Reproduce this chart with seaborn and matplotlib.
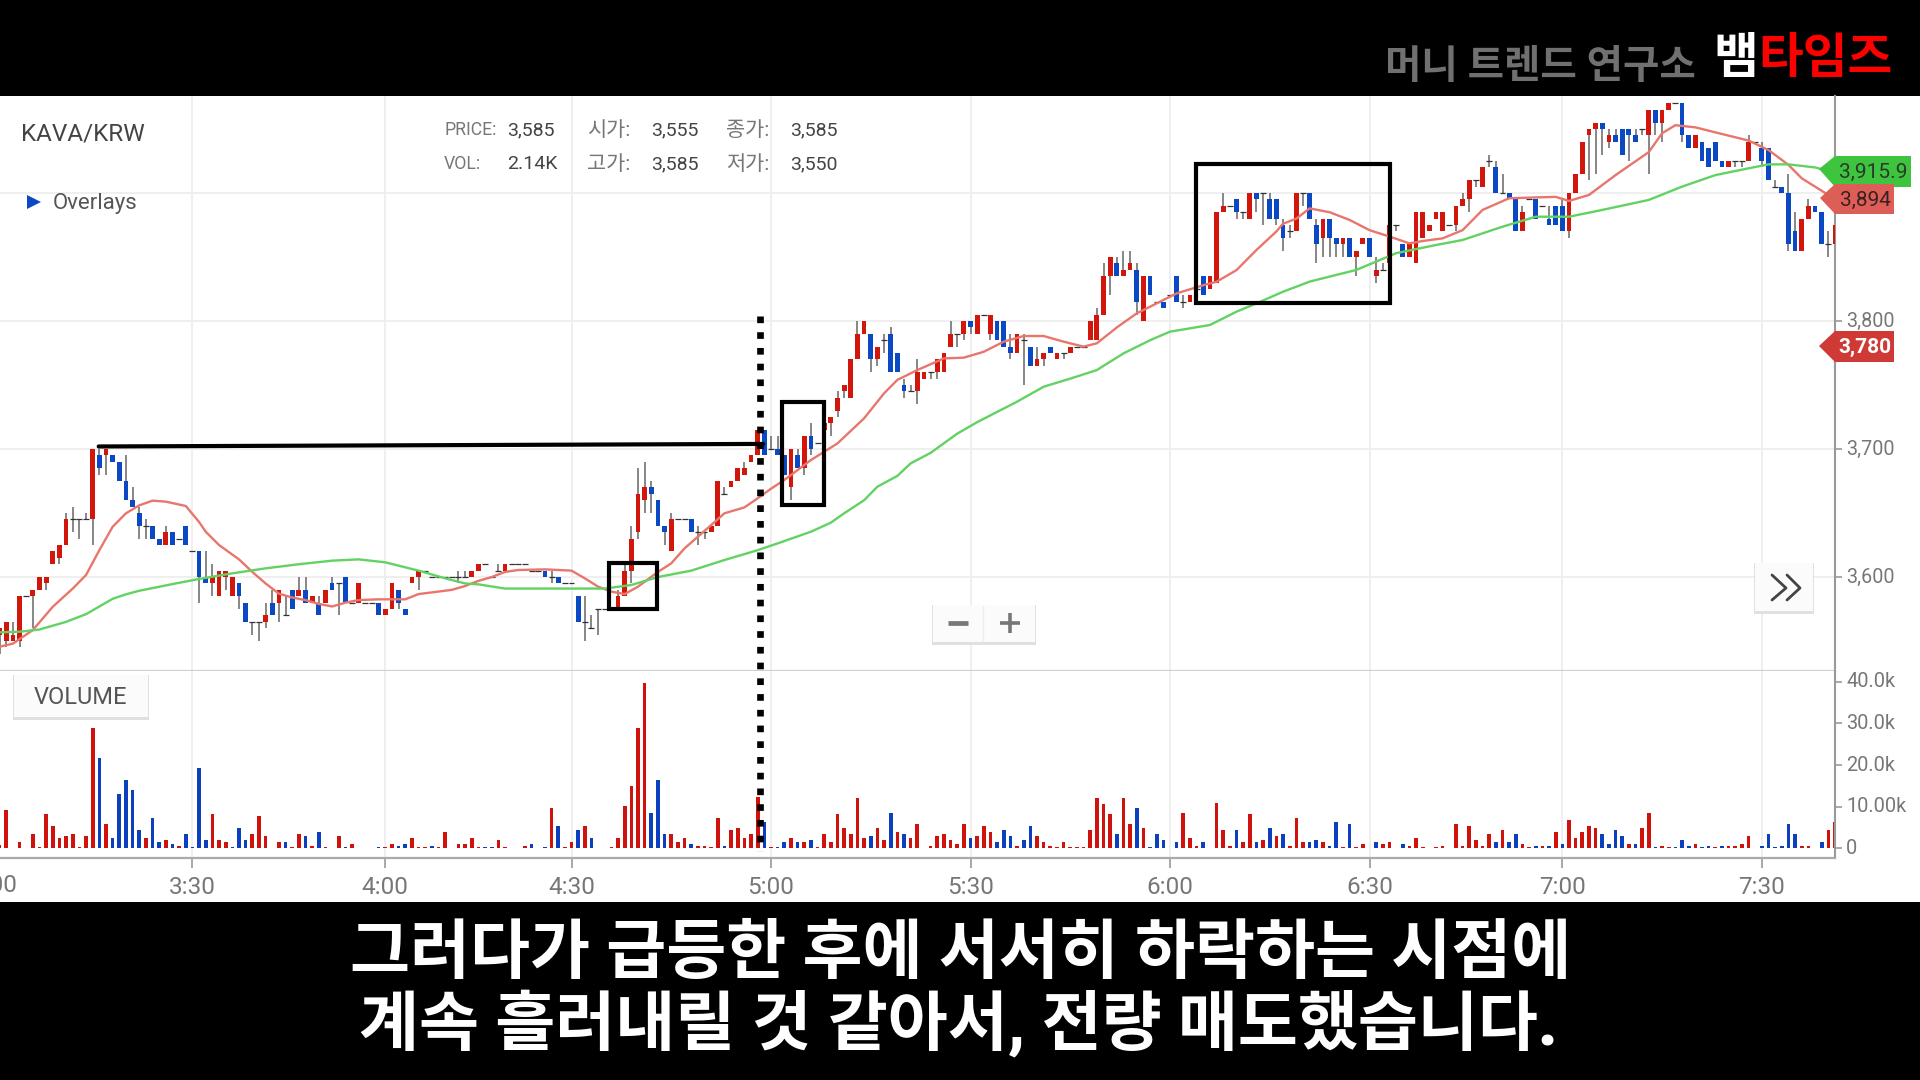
"""
KAVA/KRW candle chart with volume pane, from a video frame with caption bars.
"""

import matplotlib
matplotlib.use("Agg")
import matplotlib.pyplot as plt
import numpy as np
import pandas as pd
import seaborn as sns
from matplotlib.patches import Polygon, Rectangle
from matplotlib.transforms import ScaledTranslation

# ============================================
# Data (one entry per bar)
# ============================================
open_prices = [
    3555, 3550, 3550, 3550, 3585, 3585, 3590, 3595, 3610, 3615,
    3625, 3645, 3645, 3645, 3645, 3695, 3695, 3695, 3690, 3675,
    3660, 3650, 3640, 3640, 3630, 3625, 3635, 3630, 3640, 3620,
    3620, 3600, 3595, 3585, 3600, 3585, 3595, 3580, 3565, 3565,
    3565, 3580, 3580, 3570, 3590, 3585, 3590, 3580, 3580, 3580,
    3595, 3595, 3600, 3580, 3580, 3580, 3580, 3580, 3570, 3575,
    3590, 3575, 3595, 3600, 3605, 3600, 3600, 3600, 3600, 3600,
    3600, 3600, 3605, 3610, 3600, 3605, 3605, 3610, 3610, 3610,
    3605, 3605, 3605, 3600, 3600, 3595, 3595, 3585, 3565, 3560,
    3575, 3575, 3575, 3575, 3585, 3605, 3635, 3660, 3670, 3660,
    3640, 3620, 3645, 3645, 3645, 3635, 3635, 3635, 3640, 3665,
    3670, 3675, 3680, 3690, 3695, 3715, 3700, 3700, 3695, 3670,
    3695, 3685, 3710, 3705, 3715, 3720, 3730, 3745, 3740, 3770,
    3790, 3790, 3770, 3785, 3790, 3775, 3750, 3745, 3745, 3755,
    3760, 3760, 3760, 3780, 3790, 3790, 3800, 3790, 3805, 3790,
    3800, 3800, 3780, 3775, 3785, 3780, 3765, 3770, 3780, 3770,
    3775, 3775, 3780, 3780, 3785, 3785, 3805, 3835, 3845, 3835,
    3840, 3840, 3800, 3835, 3815, 3815, 3820, 3835, 3815, 3815,
    3825, 3835, 3825, 3830, 3885, 3890, 3895, 3885, 3880, 3900,
    3900, 3895, 3895, 3875, 3870, 3870, 3900, 3900, 3875, 3865,
    3880, 3865, 3860, 3865, 3850, 3860, 3865, 3835, 3840, 3845,
    3875, 3860, 3850, 3845, 3865, 3870, 3880, 3870, 3875, 3875,
    3890, 3895, 3910, 3905, 3925, 3920, 3900, 3900, 3895, 3870,
    3895, 3895, 3890, 3880, 3890, 3890, 3870, 3900, 3915, 3945,
    3950, 3955, 3940, 3945, 3950, 3950, 3945, 3950, 3945, 3965,
    3955, 3965, 3970, 3970, 3945, 3935, 3940, 3935, 3940, 3925,
    3920, 3925, 3925, 3925, 3940, 3935, 3935, 3905, 3905, 3900,
    3870, 3855, 3880, 3890, 3885, 3860, 3860,
]
close_prices = [
    3560, 3565, 3555, 3585, 3585, 3590, 3600, 3600, 3620, 3625,
    3645, 3645, 3645, 3645, 3700, 3685, 3700, 3690, 3675, 3660,
    3655, 3640, 3640, 3630, 3625, 3635, 3625, 3630, 3625, 3620,
    3600, 3595, 3600, 3605, 3605, 3600, 3585, 3565, 3565, 3565,
    3570, 3570, 3590, 3570, 3575, 3590, 3580, 3585, 3570, 3590,
    3590, 3595, 3580, 3580, 3595, 3580, 3580, 3570, 3575, 3595,
    3580, 3570, 3600, 3605, 3605, 3600, 3600, 3600, 3600, 3600,
    3600, 3605, 3610, 3610, 3600, 3605, 3610, 3610, 3610, 3610,
    3605, 3605, 3600, 3600, 3595, 3595, 3595, 3565, 3565, 3560,
    3575, 3575, 3575, 3585, 3605, 3630, 3665, 3670, 3665, 3640,
    3635, 3645, 3645, 3645, 3635, 3635, 3635, 3640, 3675, 3665,
    3675, 3685, 3685, 3695, 3715, 3695, 3700, 3695, 3680, 3700,
    3685, 3710, 3700, 3705, 3720, 3725, 3740, 3750, 3770, 3790,
    3800, 3770, 3780, 3785, 3760, 3760, 3745, 3745, 3760, 3760,
    3760, 3770, 3775, 3790, 3790, 3800, 3795, 3805, 3805, 3805,
    3785, 3780, 3775, 3790, 3785, 3765, 3770, 3775, 3775, 3775,
    3775, 3780, 3780, 3780, 3800, 3805, 3835, 3850, 3835, 3840,
    3845, 3815, 3835, 3820, 3815, 3810, 3820, 3815, 3815, 3820,
    3825, 3820, 3835, 3885, 3890, 3890, 3885, 3885, 3900, 3895,
    3900, 3880, 3880, 3865, 3870, 3900, 3900, 3880, 3860, 3880,
    3865, 3860, 3865, 3850, 3855, 3865, 3850, 3840, 3840, 3875,
    3875, 3850, 3860, 3885, 3885, 3875, 3885, 3885, 3875, 3890,
    3895, 3910, 3910, 3920, 3925, 3900, 3900, 3895, 3870, 3885,
    3895, 3880, 3890, 3875, 3875, 3870, 3900, 3915, 3940, 3950,
    3955, 3950, 3945, 3940, 3930, 3945, 3940, 3950, 3965, 3955,
    3965, 3970, 3970, 3945, 3935, 3945, 3925, 3920, 3925, 3920,
    3925, 3925, 3925, 3940, 3940, 3925, 3910, 3905, 3900, 3860,
    3855, 3880, 3890, 3885, 3860, 3860, 3875,
]
high_prices = [
    3560, 3565, 3565, 3585, 3585, 3590, 3600, 3600, 3620, 3625,
    3650, 3655, 3645, 3650, 3700, 3700, 3700, 3695, 3690, 3695,
    3670, 3655, 3645, 3640, 3630, 3640, 3635, 3630, 3640, 3620,
    3620, 3620, 3610, 3605, 3605, 3600, 3595, 3580, 3565, 3565,
    3580, 3590, 3590, 3585, 3590, 3600, 3600, 3585, 3585, 3590,
    3600, 3595, 3600, 3580, 3595, 3580, 3580, 3580, 3575, 3595,
    3590, 3575, 3600, 3605, 3605, 3600, 3600, 3600, 3600, 3605,
    3605, 3605, 3610, 3610, 3600, 3610, 3610, 3610, 3610, 3610,
    3605, 3605, 3605, 3605, 3600, 3595, 3595, 3585, 3585, 3570,
    3575, 3575, 3575, 3590, 3610, 3640, 3685, 3690, 3675, 3660,
    3640, 3650, 3645, 3645, 3645, 3640, 3635, 3640, 3675, 3670,
    3675, 3685, 3690, 3695, 3715, 3715, 3710, 3710, 3695, 3700,
    3700, 3710, 3720, 3705, 3720, 3725, 3745, 3750, 3770, 3800,
    3800, 3790, 3780, 3790, 3795, 3775, 3755, 3750, 3770, 3760,
    3760, 3770, 3775, 3800, 3790, 3800, 3800, 3805, 3805, 3805,
    3800, 3800, 3790, 3790, 3790, 3780, 3780, 3775, 3780, 3775,
    3775, 3780, 3780, 3780, 3800, 3810, 3845, 3850, 3850, 3855,
    3855, 3845, 3835, 3835, 3815, 3815, 3820, 3835, 3820, 3820,
    3825, 3835, 3835, 3885, 3900, 3890, 3895, 3885, 3900, 3900,
    3900, 3900, 3895, 3880, 3875, 3900, 3900, 3900, 3880, 3880,
    3880, 3865, 3865, 3865, 3855, 3865, 3865, 3850, 3845, 3875,
    3875, 3860, 3860, 3885, 3885, 3875, 3885, 3885, 3875, 3890,
    3900, 3910, 3910, 3920, 3930, 3925, 3915, 3900, 3895, 3890,
    3895, 3895, 3890, 3890, 3890, 3895, 3900, 3915, 3940, 3950,
    3955, 3955, 3950, 3950, 3950, 3950, 3950, 3950, 3965, 3965,
    3965, 3970, 3970, 3970, 3945, 3945, 3940, 3935, 3940, 3925,
    3925, 3925, 3925, 3945, 3940, 3940, 3935, 3910, 3905, 3915,
    3885, 3880, 3895, 3890, 3885, 3870, 3875,
]
low_prices = [
    3540, 3545, 3550, 3545, 3585, 3560, 3590, 3590, 3610, 3610,
    3625, 3635, 3630, 3645, 3625, 3680, 3680, 3690, 3675, 3660,
    3655, 3630, 3630, 3630, 3625, 3625, 3625, 3630, 3625, 3620,
    3580, 3595, 3585, 3585, 3590, 3585, 3575, 3565, 3555, 3550,
    3560, 3570, 3565, 3570, 3575, 3585, 3580, 3580, 3570, 3580,
    3590, 3570, 3580, 3580, 3580, 3580, 3580, 3570, 3570, 3575,
    3575, 3570, 3595, 3590, 3605, 3600, 3600, 3600, 3600, 3595,
    3600, 3600, 3605, 3610, 3600, 3605, 3605, 3610, 3610, 3610,
    3605, 3605, 3600, 3595, 3595, 3595, 3595, 3565, 3550, 3560,
    3555, 3575, 3575, 3575, 3585, 3595, 3630, 3650, 3650, 3640,
    3625, 3620, 3645, 3645, 3635, 3625, 3630, 3635, 3640, 3665,
    3670, 3675, 3680, 3690, 3695, 3695, 3700, 3695, 3680, 3660,
    3685, 3680, 3695, 3705, 3710, 3710, 3725, 3740, 3740, 3770,
    3790, 3760, 3765, 3775, 3760, 3760, 3740, 3745, 3735, 3755,
    3755, 3755, 3760, 3780, 3780, 3785, 3790, 3790, 3805, 3785,
    3785, 3780, 3770, 3775, 3750, 3765, 3765, 3765, 3775, 3770,
    3770, 3775, 3780, 3780, 3785, 3785, 3805, 3820, 3835, 3835,
    3840, 3805, 3800, 3820, 3815, 3810, 3820, 3815, 3810, 3815,
    3825, 3820, 3825, 3830, 3885, 3890, 3880, 3880, 3880, 3885,
    3875, 3880, 3875, 3855, 3865, 3870, 3890, 3880, 3845, 3850,
    3850, 3850, 3850, 3850, 3835, 3860, 3850, 3830, 3840, 3845,
    3870, 3850, 3850, 3845, 3865, 3870, 3880, 3870, 3875, 3870,
    3890, 3885, 3905, 3905, 3920, 3900, 3900, 3895, 3870, 3870,
    3895, 3880, 3890, 3875, 3875, 3870, 3865, 3900, 3915, 3910,
    3915, 3930, 3935, 3940, 3930, 3925, 3940, 3945, 3915, 3945,
    3940, 3965, 3970, 3940, 3935, 3935, 3925, 3920, 3925, 3920,
    3920, 3920, 3920, 3925, 3940, 3920, 3910, 3905, 3900, 3855,
    3855, 3855, 3880, 3885, 3860, 3850, 3860,
]

# volume in thousands, 0 where the bar is absent
volume_k = [
    0.8, 9.2, 0, 1.5, 0, 3.4, 0.4, 8.2, 5.4, 2.4,
    3, 3.4, 0.4, 3, 28.8, 21.6, 5.8, 2.4, 13, 16.4,
    14, 4.4, 2.4, 7.2, 1.4, 2, 1, 0.6, 3.4, 0.3,
    19.2, 2, 8.2, 2, 1.4, 0.3, 4.8, 2, 3.4, 7.8,
    3, 0, 1.4, 1.4, 0.3, 3.4, 3, 0.6, 3.8, 0.3,
    0, 3, 0.3, 1, 0, 0, 0, 0.3, 0.3, 1,
    0.6, 1, 2.4, 0.4, 0.3, 0.6, 0.3, 3.8, 0, 1,
    1, 2.4, 0.3, 0.3, 0.3, 2, 0.3, 0, 0, 0.6,
    1, 0, 0.3, 9.6, 5.4, 0.3, 1.4, 4.3, 5.4, 2.4,
    0, 0, 0.3, 2.4, 10.2, 15, 28.8, 39.8, 8.6, 16.4,
    3.4, 3.4, 1.4, 2.4, 1, 0.6, 0.5, 0.3, 7.2, 0.6,
    4.3, 4.8, 2.4, 3.4, 12.4, 6.2, 0.3, 0.3, 1.4, 2.4,
    1.4, 1.4, 1.9, 0.3, 3.4, 1.4, 8.2, 4.8, 3.4, 12,
    2.4, 2.9, 4.8, 1.9, 8.6, 3.8, 3.4, 2.4, 5.8, 0,
    0.6, 3, 3.4, 1.9, 1, 5.8, 2.4, 2.9, 5.3, 3.8,
    1.4, 4.3, 2.9, 0.6, 1.9, 5.3, 2.9, 1.4, 0.6, 0.3,
    1.4, 0.3, 0.3, 0.3, 4.3, 12, 10.6, 8.2, 3.4, 12,
    5.8, 9.6, 4.8, 0.4, 3.4, 1.9, 0, 1.4, 8.6, 2.4,
    0.6, 1.4, 0, 11, 4.3, 0.6, 4.3, 1.4, 8.2, 1.4,
    1.9, 4.8, 2.9, 3.4, 0.6, 7.2, 1.4, 1.4, 1.9, 1.4,
    0.6, 6.2, 0.3, 5.8, 0.4, 1, 0, 1.4, 1, 1.4,
    0, 1, 0.6, 2.4, 0.3, 0, 0.3, 0.6, 0, 5.8,
    0.6, 5.3, 1.9, 0.6, 3.4, 1.4, 4.3, 1.4, 3.4, 1,
    0.3, 0.6, 0.5, 0.6, 3.8, 1, 6.7, 2.4, 3.8, 5.3,
    4.8, 3.4, 1, 4.3, 2.9, 1, 1, 4.8, 8.6, 0.3,
    0.5, 0.3, 0.3, 1.9, 0.6, 1, 0.3, 0.6, 0.3, 0.6,
    0.5, 0.5, 1, 2.9, 0, 0.6, 3.4, 0.3, 0.5, 5.8,
    3.4, 0.6, 0.5, 0, 1.4, 4.3, 6.2,
]
# bars whose volume is drawn blue
volume_down_bars = [
    15, 17, 18, 19, 20, 21, 23, 24, 26, 28, 29, 30, 31, 35, 36, 37, 43, 46, 48,
    52, 57, 60, 61, 65, 73, 74, 80, 82, 84, 87, 89, 98, 99, 100, 104, 109, 115,
    117, 118, 120, 122, 131, 134, 136, 146, 150, 151, 152, 154, 155, 168, 171,
    173, 174, 175, 177, 181, 186, 189, 191, 193, 197, 198, 200, 201, 203, 207,
    211, 225, 227, 228, 231, 233, 235, 241, 242, 243, 244, 246, 249, 252, 253,
    254, 256, 257, 259, 265, 266, 267, 268, 269, 270, 274,
]

# moving averages, read at these bars
fast_ma_bars = [
    0, 2, 5, 8, 11, 13, 15, 17, 19, 21, 23, 25, 28, 30, 31, 33, 36, 38, 40, 42,
    44, 46, 48, 50, 52, 54, 57, 59, 61, 63, 65, 68, 70, 72, 74, 76, 78, 82, 86,
    88, 90, 92, 94, 96, 99, 101, 103, 105, 107, 109, 112, 114, 116, 118, 122,
    126, 130, 132, 133, 135, 138, 142, 145, 148, 151, 154, 157, 160, 163, 165,
    168, 171, 174, 177, 181, 183, 186, 189, 192, 193, 195, 197, 200, 203, 206,
    209, 212, 214, 217, 220, 223, 227, 230, 234, 236, 239, 243, 248, 250, 252,
    255, 258, 263, 266, 269, 271, 273, 275, 276,
]
fast_ma = [
    3545.6, 3548, 3558.6, 3576.8, 3591, 3601.6, 3621, 3639.3, 3649.8, 3656,
    3659.7, 3658.9, 3655.5, 3643, 3635.4, 3625, 3613.8, 3604, 3595, 3587,
    3584, 3582, 3579, 3577, 3580, 3582, 3582.6, 3582.6, 3582.6, 3586.7,
    3588, 3590, 3593, 3597, 3600, 3604, 3605.5, 3606, 3605, 3599,
    3592.5, 3588.6, 3586.7, 3592.5, 3604, 3610.7, 3622.4, 3631.5, 3640.6, 3649.8,
    3654.4, 3661.5, 3669, 3675.8, 3691.4, 3704.4, 3724, 3737, 3743.5, 3754,
    3761.7, 3770.8, 3771.4, 3776, 3783.9, 3788.3, 3788.3, 3783.9, 3780, 3782.6,
    3795, 3806, 3813.8, 3821.6, 3828, 3830.7, 3839.8, 3855.5, 3870, 3876,
    3880, 3888, 3885, 3879, 3871, 3866, 3860.7, 3862.5, 3864.6, 3871,
    3886.8, 3895.9, 3896.4, 3897, 3893.8, 3898.5, 3914, 3932, 3946.7, 3953,
    3951.3, 3947.4, 3941, 3933.6, 3922, 3911.5, 3905, 3898.5, 3894,
]
slow_ma_bars = [
    0, 3, 6, 8, 10, 13, 15, 17, 19, 21, 26, 30, 35, 40, 45, 50, 54, 58, 63, 67, 70, 72, 76,
    82, 91, 95, 99, 104, 109, 114, 117, 122, 125, 127, 130, 132, 135, 137, 140, 144,
    147, 150, 153, 157, 161, 165,
    169, 173, 176, 182, 186, 189, 193, 197, 204, 210, 216, 220, 226, 231, 236,
    241, 248, 253, 258, 263, 266, 269, 273, 276,
]
slow_ma = [
    3556.8, 3557.3, 3559, 3562, 3565, 3571, 3577, 3583, 3586.5, 3589.3, 3594.5, 3598.5, 3602.9,
    3606.8, 3610, 3612.8, 3613.8, 3611.5, 3605, 3599, 3595, 3594.3, 3591,
    3591, 3591, 3593.8, 3600, 3605, 3613.3, 3621, 3626.3, 3635.4, 3642.5, 3649.8, 3660,
    3670.6, 3679, 3688.8, 3697, 3712,
    3721, 3729, 3737, 3748.7, 3755, 3761.7, 3774.7, 3785, 3791.7, 3796.9,
    3807.3, 3813.8, 3822.9, 3830.8, 3839.9, 3853, 3859.4, 3863.3, 3873.7, 3881.5,
    3881.5, 3886.8, 3894.6, 3905, 3914, 3919.3, 3922.4, 3922.4, 3920, 3915.9,
]

time_ticks = [29, 58, 86, 116, 146, 176, 206, 235, 265]
time_labels = ["3:30", "4:00", "4:30", "5:00", "5:30", "6:00", "6:30", "7:00", "7:30"]
price_ticks = [3600, 3700, 3800, 3900]
price_labels = ["3,600", "3,700", "3,800", ""]
volume_ticks = [0, 10, 20, 30, 40]
volume_labels = ["0", "10.00k", "20.0k", "30.0k", "40.0k"]

# hand-drawn boxes on the chart: first bar, last bar, low price, high price
marked_boxes = [
    (91.7, 98.9, 3575, 3611),
    (117.7, 123.9, 3656, 3737),
    (179.9, 209.1, 3814, 3923),
]

header_labels = ["PRICE:", "VOL:", "시가:", "고가:", "종가:", "저가:"]
header_values = ["3,585", "2.14K", "3,555", "3,585", "3,585", "3,550"]
caption_lines = [
    "그러다가 급등한 후에 서서히 하락하는 시점에",
    "계속 흘러내릴 것 같아서, 전량 매도했습니다.",
]

RED = "#d2160c"
BLUE = "#0b48c4"
WIDTH, HEIGHT = 1920, 1080
PANE_RIGHT, PANE_TOP, PANE_SPLIT, PANE_BOTTOM = 1835, 96, 671, 858

sns.set_theme(style="white")
plt.rcParams["font.family"] = ["Roboto", "Noto Sans CJK KR", "DejaVu Sans"]

fig = plt.figure(figsize=(19.2, 10.8), dpi=100, facecolor="black")

# ============================================
# Panes
# ============================================
ax_bg = fig.add_axes([0, 0, 1, 1], zorder=0)
ax_bg.set_xlim(0, WIDTH)
ax_bg.set_ylim(HEIGHT, 0)
ax_bg.axis("off")
ax_bg.add_patch(Rectangle((0, PANE_TOP), WIDTH, 902 - PANE_TOP, color="white", lw=0))

ax_price = fig.add_axes([
    0, 1 - PANE_SPLIT / HEIGHT, PANE_RIGHT / WIDTH, (PANE_SPLIT - PANE_TOP) / HEIGHT
], zorder=1)
ax_vol = fig.add_axes([
    0, 1 - PANE_BOTTOM / HEIGHT, PANE_RIGHT / WIDTH, (PANE_BOTTOM - PANE_SPLIT) / HEIGHT
], zorder=1)

bars = np.arange(len(open_prices))
opens = np.array(open_prices)
closes = np.array(close_prices)
highs = np.array(high_prices)
lows = np.array(low_prices)

# ============================================
# Price pane
# ============================================
flat = opens == closes
up = closes > opens
down = closes < opens

ax_price.vlines(bars, lows, highs, color="#666666", lw=1.1, zorder=2)
ax_price.bar(bars[up], (closes - opens)[up], bottom=opens[up], width=0.72, color=RED, lw=0, zorder=3)
ax_price.bar(bars[down], (opens - closes)[down], bottom=closes[down], width=0.72, color=BLUE, lw=0, zorder=3)
ax_price.hlines(opens[flat], bars[flat] - 0.45, bars[flat] + 0.45, color="#333333", lw=0.9, zorder=3)

sns.lineplot(x=fast_ma_bars, y=fast_ma, ax=ax_price, color="#e8766d", lw=1.7,
             estimator=None, errorbar=None, zorder=4)
sns.lineplot(x=slow_ma_bars, y=slow_ma, ax=ax_price, color="#62d262", lw=1.7,
             estimator=None, errorbar=None, zorder=4)

ax_price.set_xlim(0.06, 276)
ax_price.set_ylim(3526.6, 3975.8)
ax_price.set_xticks(time_ticks)
ax_price.set_xticklabels([])
ax_price.tick_params(axis="x", length=0)
ax_price.yaxis.tick_right()
ax_price.set_yticks(price_ticks)
ax_price.set_yticklabels(price_labels, fontsize=14.2, color="#777777")
ax_price.tick_params(axis="y", length=5, width=1.2, color="#999999", pad=3, direction="out", right=True)
ax_price.grid(True, color="#eeeeee", lw=1.3)
ax_price.set_axisbelow(True)
ax_price.set_xlabel("")
ax_price.set_ylabel("")

# boxes and the resistance line marked by hand on the chart
for first, last, bottom, top in marked_boxes:
    ax_price.add_patch(Rectangle((first, bottom), last - first, top - bottom, fill=False,
                                 edgecolor="black", lw=3, zorder=6))
sns.lineplot(x=[14.9, 114.8], y=[3702, 3704], ax=ax_price, color="black", lw=3,
             estimator=None, errorbar=None, zorder=6)

# ============================================
# Volume pane
# ============================================
volume_df = pd.DataFrame({"bar": bars, "volume": volume_k})
volume_df["side"] = np.where(volume_df["bar"].isin(volume_down_bars), "down", "up")
sns.barplot(data=volume_df, x="bar", y="volume", hue="side",
            palette={"up": "#cf120c", "down": "#0b3fc0"}, native_scale=True, dodge=False,
            width=0.55, saturation=1, errorbar=None, legend=False, ax=ax_vol, lw=0)

ax_vol.set_xlim(0.06, 276)
ax_vol.set_ylim(-2.33, 42.6)
ax_vol.set_xticks(time_ticks)
ax_vol.set_xticklabels(time_labels, fontsize=17.5, color="#777777")
ax_vol.tick_params(axis="x", length=7, width=1.2, color="#999999", pad=6, bottom=True)
ax_vol.yaxis.tick_right()
ax_vol.set_yticks(volume_ticks)
ax_vol.set_yticklabels(volume_labels, fontsize=14.4, color="#777777")
ax_vol.tick_params(axis="y", length=5, width=1.2, color="#999999", pad=3, right=True)
ax_vol.grid(True, axis="x", color="#eeeeee", lw=1.3)
ax_vol.grid(False, axis="y")
ax_vol.set_axisbelow(True)
ax_vol.set_xlabel("")
ax_vol.set_ylabel("")

# right tick labels sit slightly above their ticks in the reference
for label in ax_price.get_yticklabels() + ax_vol.get_yticklabels():
    label.set_transform(label.get_transform() + ScaledTranslation(0, 2 / 100, fig.dpi_scale_trans))

for side in ["left", "top"]:
    ax_price.spines[side].set_visible(False)
    ax_vol.spines[side].set_visible(False)
ax_price.spines["right"].set_color("#999999")
ax_price.spines["right"].set_linewidth(1.5)
ax_price.spines["bottom"].set_color("#d0d0d0")
ax_price.spines["bottom"].set_linewidth(1.6)
ax_vol.spines["right"].set_color("#999999")
ax_vol.spines["right"].set_linewidth(1.5)
ax_vol.spines["bottom"].set_color("#aaaaaa")
ax_vol.spines["bottom"].set_linewidth(1.6)

# ============================================
# Overlay in picture pixels: texts, badges, buttons
# ============================================
ax_top = fig.add_axes([0, 0, 1, 1], zorder=10)
ax_top.set_xlim(0, WIDTH)
ax_top.set_ylim(HEIGHT, 0)
ax_top.axis("off")
ax_top.patch.set_alpha(0)

# the 3:00 label is cut by the left edge, as in the reference
ax_top.text(-6, 885, "3:00", fontsize=17.5, color="#777777", ha="center", va="center")

# dotted line at the sell point
ax_top.plot([760, 760], [316, 851], color="black", lw=4.8, linestyle=(0, (1, 1.36)),
            dash_capstyle="butt", zorder=6)

ax_top.text(21, 134, "KAVA/KRW", fontsize=17.5, color="#444444", ha="left", va="center")
ax_top.text(444, 130, header_labels[0], fontsize=12.7, color="#777777", ha="left", va="center")
ax_top.text(444, 164, header_labels[1], fontsize=12.7, color="#777777", ha="left", va="center")
ax_top.text(507, 130, header_values[0], fontsize=14, color="#444444", ha="left", va="center")
ax_top.text(507, 164, header_values[1], fontsize=14, color="#444444", ha="left", va="center")
ax_top.text(587, 130, header_labels[2], fontsize=15, color="#777777", ha="left", va="center")
ax_top.text(587, 164, header_labels[3], fontsize=15, color="#777777", ha="left", va="center")
ax_top.text(651, 130, header_values[2], fontsize=14, color="#444444", ha="left", va="center")
ax_top.text(651, 164, header_values[3], fontsize=14, color="#444444", ha="left", va="center")
ax_top.text(726, 130, header_labels[4], fontsize=15, color="#777777", ha="left", va="center")
ax_top.text(726, 164, header_labels[5], fontsize=15, color="#777777", ha="left", va="center")
ax_top.text(790, 130, header_values[4], fontsize=14, color="#444444", ha="left", va="center")
ax_top.text(790, 164, header_values[5], fontsize=14, color="#444444", ha="left", va="center")

ax_top.add_patch(Polygon([(27, 195), (41, 202), (27, 209)], color="#0b48c4", lw=0))
ax_top.text(53, 203, "Overlays", fontsize=16, color="#555555", ha="left", va="center")


def draw_button(x0, y0, x1, y1):
    """White button with a soft shadow."""
    ax_top.add_patch(Rectangle((x0 - 1, y0), x1 - x0 + 2, y1 - y0 + 3, color="#e0e0e0", lw=0))
    ax_top.add_patch(Rectangle((x0, y0), x1 - x0, y1 - y0, color="#fbfbfb", lw=0))


draw_button(14, 675, 148, 717)
ax_top.text(80, 697, "VOLUME", fontsize=17, color="#555555", ha="center", va="center")

draw_button(933, 605, 1035, 642)
ax_top.plot([983, 983], [606, 641], color="#eeeeee", lw=1)
ax_top.plot([948, 968], [623, 623], color="#777777", lw=3.4, solid_capstyle="butt")
ax_top.plot([1000, 1020], [623, 623], color="#777777", lw=2.6, solid_capstyle="butt")
ax_top.plot([1010, 1010], [613, 633], color="#777777", lw=2.6, solid_capstyle="butt")

draw_button(1755, 563, 1813, 611)
ax_top.plot([1772, 1786, 1772], [575, 588, 600], color="#444444", lw=2)
ax_top.plot([1787, 1800, 1787], [575, 588, 600], color="#444444", lw=2)


def draw_badge(tip_x, tip_y, right, top, bottom, face, label, text_color, weight):
    """Price tag on the right axis."""
    ax_top.add_patch(Polygon(
        [(tip_x, tip_y), (PANE_RIGHT, top), (right, top), (right, bottom), (PANE_RIGHT, bottom)],
        closed=True, color=face, lw=0, zorder=7,
    ))
    ax_top.text((PANE_RIGHT + right) / 2 + 0.5, (top + bottom) / 2 + 1, label, fontsize=15,
                color=text_color, weight=weight, ha="center", va="center", zorder=8)


draw_badge(1819, 169, 1911, 156, 187, "#3fc43f", "3,915.9", "#2a3a2a", "normal")
draw_badge(1820, 198, 1894, 184, 214, "#dd5e56", "3,894", "#3a2020", "normal")
draw_badge(1819, 346, 1894, 331, 362, "#cf3a36", "3,780", "white", "bold")

# top band logo
ax_top.text(1696, 66, "머니 트렌드 연구소", fontsize=28.5, color="#707070", weight=900,
            ha="right", va="center")
ax_top.text(1758, 60, "뱀", fontsize=35, color="white", weight=900, ha="right", va="center")
ax_top.text(1758, 60, "타임즈", fontsize=35, color="#ff0000", weight=900, ha="left", va="center")

# bottom caption
ax_top.text(961, 955, caption_lines[0], fontsize=47, color="white", weight=900,
            ha="center", va="center")
ax_top.text(958, 1024, caption_lines[1], fontsize=47, color="white", weight=900,
            ha="center", va="center")

fig.savefig("out.png", dpi=100, facecolor="black")
plt.close(fig)
